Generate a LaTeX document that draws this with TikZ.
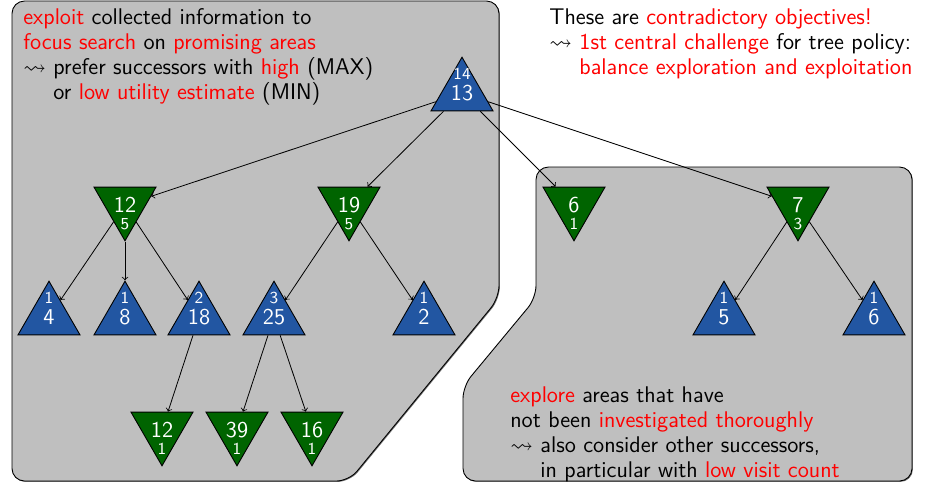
\documentclass[tikz,border=0pt]{standalone}
\usepackage{amssymb}
\usetikzlibrary{shapes.geometric}

\definecolor{maxblue}{RGB}{34,86,162}
\definecolor{mingreen}{RGB}{0,100,0}
\definecolor{regiongray}{RGB}{191,191,191}

% a MAX node (triangle up) with visit count above the value
\newcommand{\maxnodeat}[5]{%
  \node[maxnode] (#1) at (#2,#3) {};
  \node[smallnum] at ([yshift=10.6pt]#1.center) {#4};
  \node[bignum] at (#1.center) {#5};}
% a MIN node (triangle down) with value above the visit count
\newcommand{\minnodeat}[5]{%
  \node[minnode] (#1) at (#2,#3) {};
  \node[smallnum] at ([yshift=-10.6pt]#1.center) {#4};
  \node[bignum] at (#1.center) {#5};}

\begin{document}
\begin{tikzpicture}[x=0.56pt, y=-0.56pt,
  font=\sffamily\fontsize{12.7}{14}\selectfont,
  tri/.style={regular polygon, regular polygon sides=3, minimum size=40.1pt,
    inner sep=0pt, draw=black, line width=0.5pt},
  maxnode/.style={tri, fill=maxblue},
  minnode/.style={tri, fill=mingreen, shape border rotate=180},
  bignum/.style={text=white, inner sep=0pt, font=\sffamily\fontsize{12.7}{14}\selectfont},
  smallnum/.style={text=white, inner sep=0pt, font=\sffamily\fontsize{9.4}{11}\selectfont},
  region/.style={fill=regiongray, draw=black, line width=0.5pt, rounded corners=7pt},
  regionshadow/.style={fill=black!55, rounded corners=7pt},
  edge/.style={->, line width=0.45pt},
  note/.style={anchor=north west, align=left, inner sep=0pt}]

\useasboundingbox (0,0) rectangle (926,483);

% exploitation area
\fill[regionshadow, shift={(0.9,0.9)}]
  (12,1) -- (499,1) -- (499,298) -- (349,481) -- (12,481) -- cycle;
\path[region] (12,1) -- (499,1) -- (499,298) -- (349,481) -- (12,481) -- cycle;

% exploration area
\fill[regionshadow, shift={(0.9,0.9)}]
  (536,167) -- (912,167) -- (912,481) -- (463,481) -- (463,386) -- (536,298) -- cycle;
\path[region] (536,167) -- (912,167) -- (912,481) -- (463,481) -- (463,386) -- (536,298) -- cycle;

% tree
\maxnodeat{r}{462}{93}{14}{13}

\minnodeat{a}{125}{205}{5}{12}
\minnodeat{b}{349}{205}{5}{19}
\minnodeat{c}{574}{205}{1}{6}
\minnodeat{d}{798}{205}{3}{7}

\maxnodeat{a1}{49}{317}{1}{4}
\maxnodeat{a2}{125}{317}{1}{8}
\maxnodeat{a3}{199}{317}{2}{18}
\maxnodeat{b1}{274}{317}{3}{25}
\maxnodeat{b2}{424}{317}{1}{2}
\maxnodeat{d1}{724}{317}{1}{5}
\maxnodeat{d2}{874}{317}{1}{6}

\minnodeat{a31}{162}{430}{1}{12}
\minnodeat{b11}{237}{430}{1}{39}
\minnodeat{b12}{312}{430}{1}{16}

\draw[edge] (r) -- (a);
\draw[edge] (r) -- (b);
\draw[edge] (r) -- (c);
\draw[edge] (r) -- (d);
\draw[edge] (a) -- (a1);
\draw[edge] (a) -- (a2);
\draw[edge] (a) -- (a3);
\draw[edge] (b) -- (b1);
\draw[edge] (b) -- (b2);
\draw[edge] (d) -- (d1);
\draw[edge] (d) -- (d2);
\draw[edge] (a3) -- (a31);
\draw[edge] (b1) -- (b11);
\draw[edge] (b1) -- (b12);

% explanations
\node[note] (exploit) at (23,8) {\textcolor{red}{exploit} collected information to\\
  \textcolor{red}{focus search} on \textcolor{red}{promising areas}\\
  $\leadsto$ prefer successors with \textcolor{red}{high} (MAX)\\
  \hphantom{$\leadsto$ }or \textcolor{red}{low utility estimate} (MIN)};

\node[note] (balance) at (549,8) {These are \textcolor{red}{contradictory objectives!}\\
  $\leadsto$ \textcolor{red}{1st central challenge} for tree policy:\\
  \hphantom{$\leadsto$ }\textcolor{red}{balance exploration and exploitation}};

\node[note] (explore) at (510,386) {\textcolor{red}{explore} areas that have\\
  not been \textcolor{red}{investigated thoroughly}\\
  $\leadsto$ also consider other successors,\\
  \hphantom{$\leadsto$ }in particular with \textcolor{red}{low visit count}};
\end{tikzpicture}
\end{document}
